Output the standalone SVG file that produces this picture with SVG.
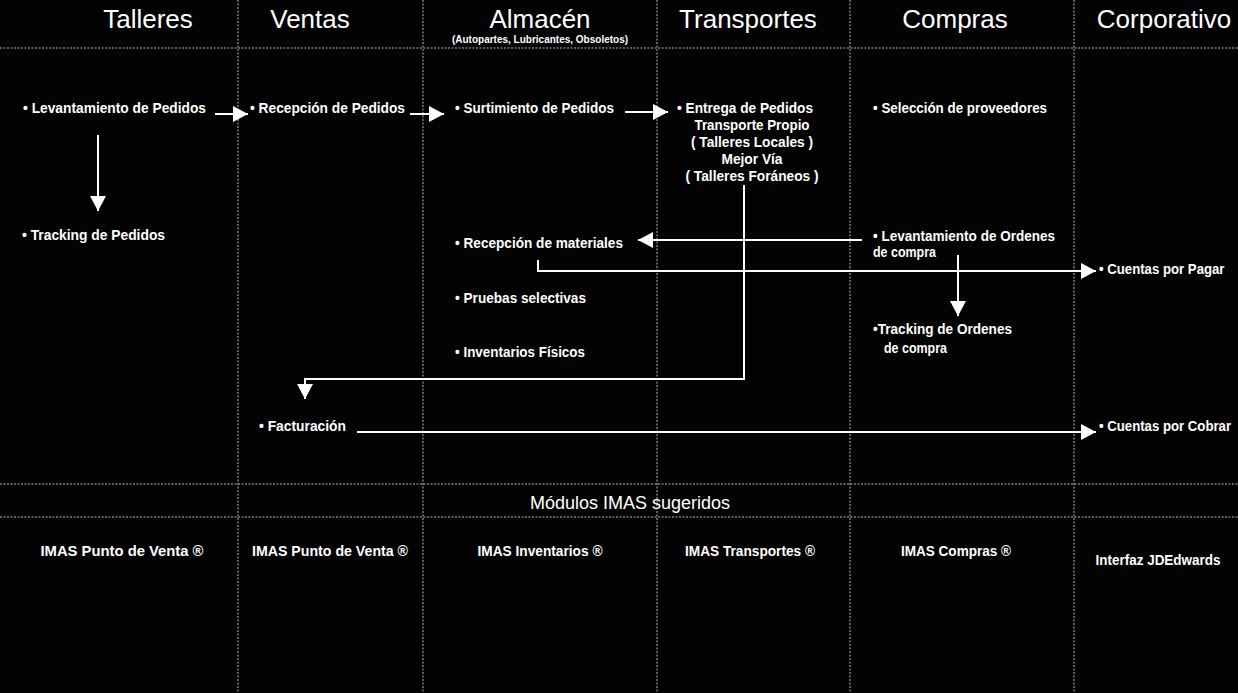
<svg xmlns="http://www.w3.org/2000/svg" width="1238" height="693" viewBox="0 0 1238 693">
  <style>
    .grid { stroke: #b8b8b8; stroke-width: 1; stroke-dasharray: 2 1.5; fill: none; }
    .hdr { font-family: "Liberation Sans", Arial, sans-serif; font-size: 26px; fill: #ffffff; text-anchor: middle; }
    .sub { font-family: "Liberation Sans", Arial, sans-serif; font-size: 10px; font-weight: bold; fill: #ffffff; text-anchor: middle; }
    .t { font-family: "Liberation Sans", Arial, sans-serif; font-size: 15px; font-weight: bold; fill: #ffffff; }
    .c { text-anchor: middle; }
    .mod { font-family: "Liberation Sans", Arial, sans-serif; font-size: 18px; fill: #ffffff; text-anchor: middle; }
    .flow { stroke: #ffffff; stroke-width: 2; fill: none; marker-end: url(#head); }
  </style>
  <defs>
    <marker id="head" markerUnits="userSpaceOnUse" markerWidth="18" markerHeight="18" refX="15" refY="8" orient="auto">
      <path d="M0,0 L15,8 L0,16 Z" fill="#ffffff"/>
    </marker>
  </defs>

  <rect width="1238" height="693" fill="#030303"/>

  <!-- swimlane grid -->
  <g id="grid">
    <line class="grid" x1="238" y1="0" x2="238" y2="693"/>
    <line class="grid" x1="423" y1="0" x2="423" y2="693"/>
    <line class="grid" x1="657" y1="0" x2="657" y2="693"/>
    <line class="grid" x1="850" y1="0" x2="850" y2="693"/>
    <line class="grid" x1="1074" y1="0" x2="1074" y2="693"/>
    <line class="grid" x1="0" y1="48" x2="1238" y2="48"/>
    <line class="grid" x1="0" y1="484" x2="1238" y2="484"/>
    <line class="grid" x1="0" y1="517" x2="1238" y2="517"/>
  </g>

  <!-- lane headers -->
  <g id="headers">
    <text class="hdr" x="148" y="28">Talleres</text>
    <text class="hdr" x="310" y="28">Ventas</text>
    <text class="hdr" x="540" y="28">Almacén</text>
    <text class="sub" x="540" y="43">(Autopartes, Lubricantes, Obsoletos)</text>
    <text class="hdr" x="748" y="28">Transportes</text>
    <text class="hdr" x="955" y="28">Compras</text>
    <text class="hdr" x="1164" y="28">Corporativo</text>
  </g>

  <!-- connectors -->
  <g id="connectors">
    <line class="flow" x1="215" y1="114" x2="248" y2="114"/>
    <line class="flow" x1="410" y1="114" x2="444" y2="114"/>
    <line class="flow" x1="625" y1="112" x2="668" y2="112"/>
    <line class="flow" x1="98" y1="135" x2="98" y2="211"/>
    <line class="flow" x1="862" y1="240" x2="638" y2="240"/>
    <path class="flow" d="M538,260 V271 H1096"/>
    <line class="flow" x1="958" y1="255" x2="958" y2="316"/>
    <path class="flow" d="M744,185 V379 H305 V399"/>
    <line class="flow" x1="357" y1="432" x2="1096" y2="432"/>
  </g>

  <!-- Talleres -->
  <g id="levantamiento-pedidos"><text class="t" x="23" y="113" textLength="183" lengthAdjust="spacingAndGlyphs">• Levantamiento de Pedidos</text></g>
  <g id="tracking-pedidos"><text class="t" x="22" y="240" textLength="143" lengthAdjust="spacingAndGlyphs">• Tracking de Pedidos</text></g>

  <!-- Ventas -->
  <g id="recepcion-pedidos"><text class="t" x="250" y="113" textLength="155" lengthAdjust="spacingAndGlyphs">• Recepción de Pedidos</text></g>
  <g id="facturacion"><text class="t" x="259" y="431" textLength="87" lengthAdjust="spacingAndGlyphs">• Facturación</text></g>

  <!-- Almacén -->
  <g id="surtimiento-pedidos"><text class="t" x="455" y="113" textLength="159" lengthAdjust="spacingAndGlyphs">• Surtimiento de Pedidos</text></g>
  <g id="recepcion-materiales"><text class="t" x="455" y="248" textLength="168" lengthAdjust="spacingAndGlyphs">• Recepción de materiales</text></g>
  <g id="pruebas-selectivas"><text class="t" x="455" y="303" textLength="131" lengthAdjust="spacingAndGlyphs">• Pruebas selectivas</text></g>
  <g id="inventarios-fisicos"><text class="t" x="455" y="357" textLength="130" lengthAdjust="spacingAndGlyphs">• Inventarios Físicos</text></g>

  <!-- Transportes -->
  <g id="entrega-pedidos">
    <text class="t" x="677" y="113" textLength="136" lengthAdjust="spacingAndGlyphs">• Entrega de Pedidos</text>
    <text class="t c" x="752" y="130" textLength="115" lengthAdjust="spacingAndGlyphs">Transporte Propio</text>
    <text class="t c" x="752" y="147" textLength="122" lengthAdjust="spacingAndGlyphs">( Talleres Locales )</text>
    <text class="t c" x="752" y="164" textLength="61" lengthAdjust="spacingAndGlyphs">Mejor Vía</text>
    <text class="t c" x="752" y="181" textLength="133" lengthAdjust="spacingAndGlyphs">( Talleres Foráneos )</text>
  </g>

  <!-- Compras -->
  <g id="seleccion-proveedores"><text class="t" x="873" y="113" textLength="174" lengthAdjust="spacingAndGlyphs">• Selección de proveedores</text></g>
  <g id="levantamiento-ordenes">
    <text class="t" x="873" y="241" textLength="182" lengthAdjust="spacingAndGlyphs">• Levantamiento de Ordenes</text>
    <text class="t" x="873" y="257" textLength="63" lengthAdjust="spacingAndGlyphs">de compra</text>
  </g>
  <g id="tracking-ordenes">
    <text class="t" x="873" y="334" textLength="139" lengthAdjust="spacingAndGlyphs">•Tracking de Ordenes</text>
    <text class="t" x="884" y="353" textLength="63" lengthAdjust="spacingAndGlyphs">de compra</text>
  </g>

  <!-- Corporativo: narrowed by a horizontal scale so the lines stay inside the page -->
  <g id="cuentas-pagar"><text class="t" transform="translate(1099,274) scale(0.88,1)" x="0" y="0">• Cuentas por Pagar</text></g>
  <g id="cuentas-cobrar"><text class="t" transform="translate(1099,431) scale(0.88,1)" x="0" y="0">• Cuentas por Cobrar</text></g>

  <!-- suggested modules -->
  <g id="modulos">
    <text class="mod" x="630" y="509">Módulos IMAS sugeridos</text>
    <text class="t c" x="122" y="556" textLength="163" lengthAdjust="spacingAndGlyphs">IMAS Punto de Venta ®</text>
    <text class="t c" x="330" y="556" textLength="156" lengthAdjust="spacingAndGlyphs">IMAS Punto de Venta ®</text>
    <text class="t c" x="540" y="556" textLength="125" lengthAdjust="spacingAndGlyphs">IMAS Inventarios ®</text>
    <text class="t c" x="750" y="556" textLength="130" lengthAdjust="spacingAndGlyphs">IMAS Transportes ®</text>
    <text class="t c" x="956" y="556" textLength="110" lengthAdjust="spacingAndGlyphs">IMAS Compras ®</text>
    <text class="t c" x="1158" y="565" textLength="125" lengthAdjust="spacingAndGlyphs">Interfaz JDEdwards</text>
  </g>
</svg>
